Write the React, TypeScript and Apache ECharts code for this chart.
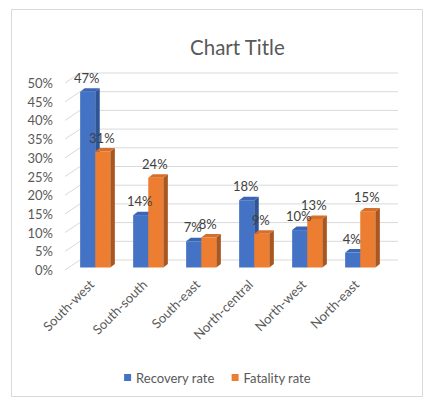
import React, { useEffect, useRef } from "react";
import * as echarts from "echarts";

const categories = ["South-west", "South-south", "South-east", "North-central", "North-west", "North-east"];
const recoveryRate = [47, 14, 7, 18, 10, 4];
const fatalityRate = [31, 24, 8, 9, 13, 15];
const yTicks = [0, 5, 10, 15, 20, 25, 30, 35, 40, 45, 50];

const FONT = "Lato, 'Noto Sans', sans-serif";
const DX = 3.75; // bar depth position shift
const DY = -2.5;
const DDX = 4.5; // bar depth
const DDY = -3.5;
const WX = 15; // back wall shift
const WY = -10;

function barRenderer(idx: number, front: string, side: string, top: string) {
  return (params: any, api: any) => {
    const c = api.value(0);
    const v = api.value(1);
    const p = api.coord([c, v]);
    const b = api.coord([c, 0]);
    const band = api.size([1, 0])[0];
    const w = band * 0.285;
    const xl = p[0] - w + idx * w + DX;
    const xr = xl + w;
    const yt = p[1] + DY;
    const yb = b[1] + DY;
    return {
      type: "group",
      children: [
        { type: "rect", shape: { x: xl, y: yt, width: w, height: yb - yt }, style: { fill: front } },
        {
          type: "polygon",
          shape: { points: [[xr, yt], [xr + DDX, yt + DDY], [xr + DDX, yb + DDY], [xr, yb]] },
          style: { fill: side },
        },
        {
          type: "polygon",
          shape: { points: [[xl, yt], [xl + DDX, yt + DDY], [xr + DDX, yt + DDY], [xr, yt]] },
          style: { fill: top },
        },
      ],
    };
  };
}

function labelRenderer(idx: number) {
  return (params: any, api: any) => {
    const c = api.value(0);
    const v = api.value(1);
    const p = api.coord([c, v]);
    const band = api.size([1, 0])[0];
    const w = band * 0.285;
    const xl = p[0] - w + idx * w + DX;
    const yt = p[1] + DY;
    return {
      type: "text",
      x: xl + w / 2 - 1,
      y: yt - 14,
      style: {
        text: v + "%",
        fill: "#404040",
        font: "13px " + FONT,
        align: "center",
        verticalAlign: "middle",
      },
    };
  };
}

function gridRenderer(params: any, api: any) {
  const v = api.value(1);
  const cs = params.coordSys;
  const y = api.coord([0, v])[1];
  const x0 = cs.x;
  const x1 = cs.x + cs.width;
  return {
    type: "polyline",
    shape: { points: [[x0, y], [x0 + WX, y + WY], [x1 + WX, y + WY]] },
    style: { stroke: "#D9D9D9", lineWidth: 1, fill: "none" },
  };
}

export default function App() {
  const ref = useRef<HTMLDivElement>(null);
  useEffect(() => {
    if (!ref.current) return;
    const chart = echarts.init(ref.current, undefined, { renderer: "svg" });
    chart.setOption({
      animation: false,
      backgroundColor: "#ffffff",
      title: {
        text: "Chart Title",
        left: 190,
        top: 36,
        padding: 0,
        textStyle: { fontFamily: FONT, fontSize: 20.5, fontWeight: "normal", color: "#595959" },
      },
      legend: {
        data: [
          { name: "Recovery rate", icon: "rect" },
          { name: "Fatality rate", icon: "rect" },
        ],
        left: "center",
        top: 366,
        itemWidth: 7,
        itemHeight: 7,
        itemGap: 17,
        textStyle: { fontFamily: FONT, fontSize: 13, color: "#595959" },
      },
      grid: { left: 65, right: 52, top: 83, bottom: 139, containLabel: false },
      xAxis: {
        type: "category",
        data: categories,
        axisLine: { show: false },
        axisTick: { show: false },
        splitLine: { show: false },
        axisLabel: {
          rotate: 45,
          margin: 12,
          interval: 0,
          fontFamily: FONT,
          fontSize: 13,
          color: "#595959",
        },
      },
      yAxis: {
        type: "value",
        min: 0,
        max: 50,
        interval: 5,
        axisLine: { show: false },
        axisTick: { show: false },
        splitLine: { show: false },
        axisLabel: {
          formatter: "{value}%",
          margin: 12,
          fontFamily: FONT,
          fontSize: 13,
          color: "#595959",
        },
      },
      series: [
        {
          type: "custom",
          name: "grid",
          z: 0,
          clip: false,
          silent: true,
          renderItem: gridRenderer,
          data: yTicks.map((t) => [0, t]),
          encode: { x: 0, y: 1 },
        },
        {
          type: "custom",
          name: "Recovery rate",
          z: 2,
          clip: false,
          itemStyle: { color: "#4472C4" },
          renderItem: barRenderer(0, "#4472C4", "#2F5597", "#3B66B5"),
          data: recoveryRate.map((v, i) => [i, v]),
          encode: { x: 0, y: 1 },
        },
        {
          type: "custom",
          name: "Fatality rate",
          z: 3,
          clip: false,
          itemStyle: { color: "#ED7D31" },
          renderItem: barRenderer(1, "#ED7D31", "#A9561F", "#D66F2A"),
          data: fatalityRate.map((v, i) => [i, v]),
          encode: { x: 0, y: 1 },
        },
        {
          type: "custom",
          name: "recoveryLabels",
          z: 5,
          clip: false,
          silent: true,
          renderItem: labelRenderer(0),
          data: recoveryRate.map((v, i) => [i, v]),
          encode: { x: 0, y: 1 },
        },
        {
          type: "custom",
          name: "fatalityLabels",
          z: 5,
          clip: false,
          silent: true,
          renderItem: labelRenderer(1),
          data: fatalityRate.map((v, i) => [i, v]),
          encode: { x: 0, y: 1 },
        },
      ],
      graphic: [
        {
          type: "rect",
          shape: { x: 11.5, y: 9.5, width: 411, height: 387 },
          style: { fill: "none", stroke: "#D9D9D9", lineWidth: 1 },
          z: 10,
          silent: true,
        },
      ],
    });
    return () => chart.dispose();
  }, []);
  return (
    <div
      ref={ref}
      style={{ position: "fixed", left: 0, top: 0, width: 435, height: 409, background: "#fff" }}
    />
  );
}
